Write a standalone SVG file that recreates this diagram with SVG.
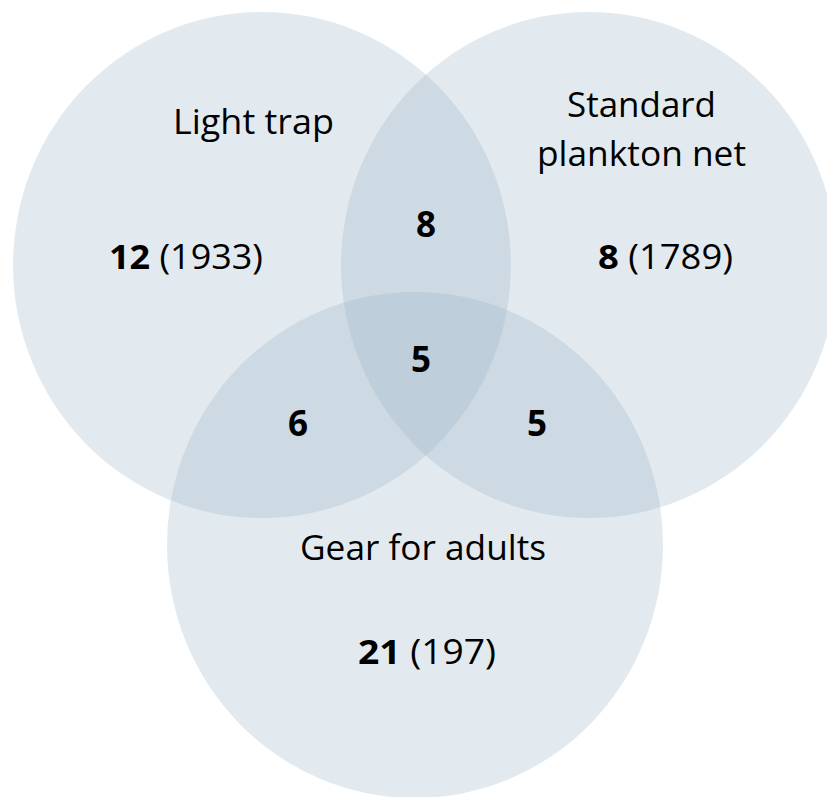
<svg xmlns="http://www.w3.org/2000/svg" width="827" height="797" viewBox="0 0 827 797">
  <style>
    .set { fill: #8eaac0; fill-opacity: 0.25; stroke: none; }
    .lbl { font-family: "Open Sans", "Noto Sans", "DejaVu Sans", sans-serif; font-size: 34px; fill: #000; }
    .b { font-weight: bold; }
    .num { font-size: 35px; }
  </style>
  <rect x="0" y="0" width="827" height="797" fill="#ffffff"/>
  <g id="light-trap">
    <ellipse class="set" cx="262" cy="265" rx="249" ry="253"/>
    <text class="lbl" x="173" y="134" textLength="161" lengthAdjust="spacingAndGlyphs">Light trap</text>
    <text class="lbl" x="109" y="269" textLength="154" lengthAdjust="spacingAndGlyphs"><tspan class="b">12</tspan> (1933)</text>
  </g>
  <g id="plankton-net">
    <ellipse class="set" cx="589" cy="265" rx="248" ry="253"/>
    <text class="lbl" x="567" y="117" textLength="149" lengthAdjust="spacingAndGlyphs">Standard</text>
    <text class="lbl" x="537" y="166" textLength="209" lengthAdjust="spacingAndGlyphs">plankton net</text>
    <text class="lbl" x="598" y="269" textLength="135" lengthAdjust="spacingAndGlyphs"><tspan class="b">8</tspan> (1789)</text>
  </g>
  <g id="gear-adults">
    <ellipse class="set" cx="415" cy="545" rx="248" ry="253"/>
    <text class="lbl" x="300" y="560" textLength="246" lengthAdjust="spacingAndGlyphs">Gear for adults</text>
    <text class="lbl" x="358" y="664" textLength="138" lengthAdjust="spacingAndGlyphs"><tspan class="b">21</tspan> (197)</text>
  </g>
  <g id="overlaps" class="lbl b num" text-anchor="middle">
    <text x="426" y="237">8</text>
    <text x="421" y="372">5</text>
    <text x="298" y="436">6</text>
    <text x="537" y="436">5</text>
  </g>
</svg>
